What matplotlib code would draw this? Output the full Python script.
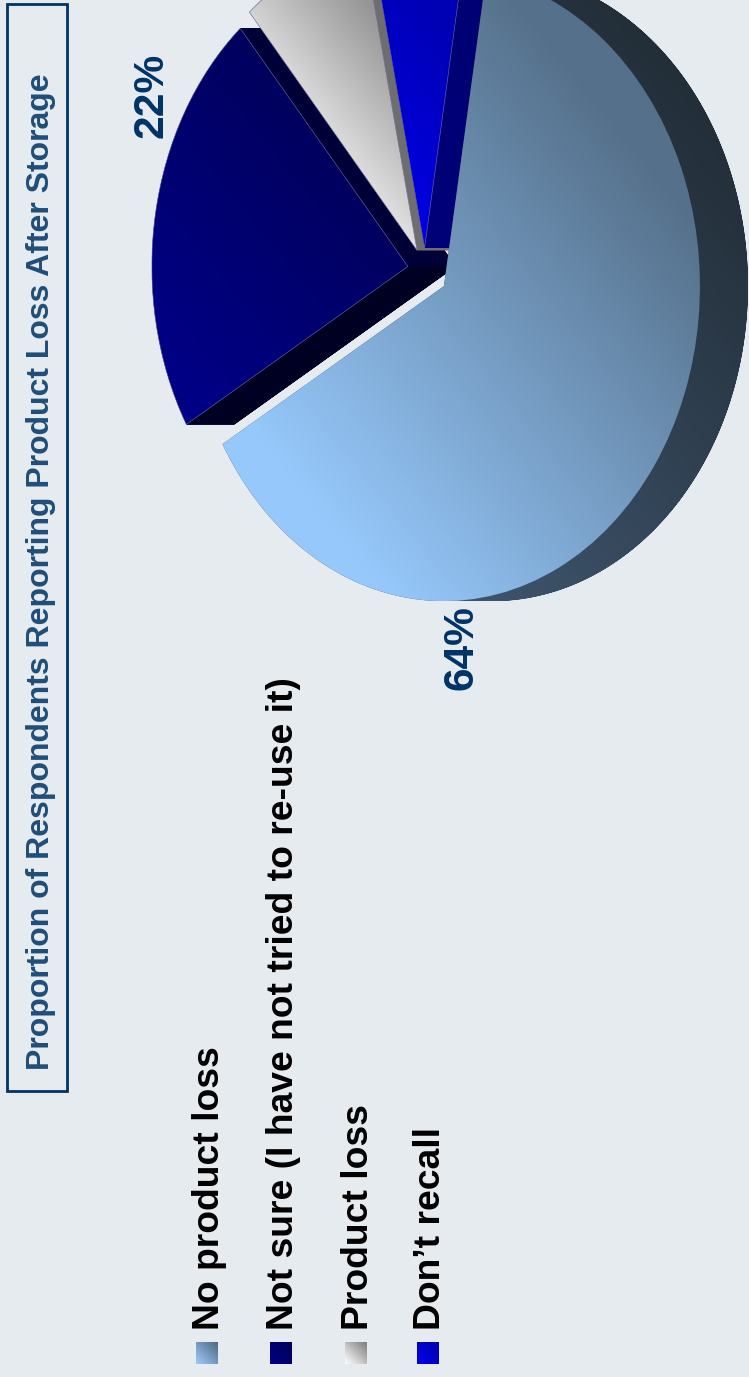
import numpy as np
import matplotlib
matplotlib.use("Agg")
import matplotlib.pyplot as plt
from matplotlib.colors import to_rgb
from matplotlib.patches import PathPatch, Rectangle
from matplotlib.path import Path

plt.rcParams['font.family'] = ['Liberation Sans', 'DejaVu Sans']

TITLE = "Proportion of Respondents Reporting Product Loss After Storage"
categories = ["No product loss", "Not sure (I have not tried to re-use it)",
              "Product loss", "Don\u2019t recall"]
values = [64, 22, 8, 6]
explode = [0.09, 0.068, 0.07, 0.07]
shown_labels = {0: "64%", 1: "22%"}

W, H = 749, 1377
BG = "#e6ebf0"
NAVY = "#003366"
CX, CY = 425, 270      # pie centre, px
RX, RY = 256, 315      # pie radii, px: the disc is viewed in perspective
DEPTH = 48 / RX        # extrusion of the disc along +x

# Gradient stops as (colour, position) along the lower-left to upper-right diagonal
face_stops = [(("#96c8fb", 0.2), ("#55708a", 0.8)),
              (("#000084", 0.2), ("#00005a", 0.55)),
              (("#e0e0e0", 0.5), ("#909090", 0.66)),
              (("#0000e4", 0.5), ("#0000b4", 0.7))]
side_stops = [(("#4a6482", 0.0), ("#1c252c", 1.0)),
              (("#000038", 0.0), ("#000038", 1.0)),
              (("#6e6e6e", 0.0), ("#6e6e6e", 1.0)),
              (("#000080", 0.0), ("#000070", 1.0))]
swatch_stops = [("#9ccbfd", "#4f6780"), ("#000084", "#000058"),
                ("#ffffff", "#7d7d7d"), ("#0000ee", "#0000a8")]

fig = plt.figure(figsize=(W / 100, H / 100), dpi=100, facecolor=BG)
ax = fig.add_axes([0, 0, 1, 1], facecolor="none")
wedges, _ = ax.pie(values, explode=explode, startangle=80.5, counterclock=False,
                   radius=1, wedgeprops=dict(facecolor="none", edgecolor="none"))
ax.set_aspect("auto")
xlim = (-CX / RX, (W - CX) / RX)
ylim = ((CY - H) / RY, CY / RY)


def ramp(t, stops):
    """Linear colour ramp between two stops, held constant outside them."""
    (c0, t0), (c1, t1) = stops
    s = np.clip((t - t0) / (t1 - t0), 0, 1)[..., None]
    return np.array(to_rgb(c0)) * (1 - s) + np.array(to_rgb(c1)) * s


def gradient_fill(axis, clip, box, stops, z):
    """Paint a diagonal gradient over a box and clip it to a patch."""
    x0, x1, y0, y1 = box
    v, u = np.mgrid[0:1:300j, 0:1:300j]
    im = axis.imshow(ramp((u + v) / 2, stops), extent=(x0, x1, y0, y1),
                     origin="lower", aspect="auto", interpolation="bilinear",
                     zorder=z)
    im.set_clip_path(clip)
    return im


def wedge_outline(wedge):
    cx, cy = wedge.center
    a = np.deg2rad(np.linspace(wedge.theta1, wedge.theta2, 361))
    arc = np.column_stack([cx + wedge.r * np.cos(a), cy + wedge.r * np.sin(a)])
    return np.vstack([[cx, cy], arc, [cx, cy]])


def swept_path(wedge, d):
    """Outline of a wedge dragged along +x: offset copy plus side quads."""
    poly = wedge_outline(wedge)

    def oriented(pts):
        x, y = pts[:, 0], pts[:, 1]
        area = np.sum(x * np.roll(y, -1) - np.roll(x, -1) * y)
        return pts if area > 0 else pts[::-1]

    parts = [Path(oriented(poly + [d, 0]))]
    for a, b in zip(poly[:-1], poly[1:]):
        parts.append(Path(oriented(np.array([a, b, b + [d, 0], a + [d, 0]]))))
    return Path.make_compound_path(*parts)


# The later slice in this list paints over the earlier ones
for z, i in enumerate([1, 2, 3, 0]):
    w = wedges[i]
    cx, cy = w.center
    side = PathPatch(swept_path(w, DEPTH), facecolor="none", edgecolor="none",
                     transform=ax.transData)
    ax.add_patch(side)
    gradient_fill(ax, side, (cx - 1, cx + 1 + DEPTH, cy - 1, cy + 1),
                  side_stops[i], 10 + 3 * z)

    if i == 1:
        # the lower cut face of this slice catches less light
        a = np.deg2rad(w.theta2)
        tip = np.array([cx + np.cos(a), cy + np.sin(a)])
        quad = np.array([[cx, cy], tip, tip + [DEPTH, 0], [cx + DEPTH, cy]])
        ax.fill(quad[:, 0], quad[:, 1], color="#000022", lw=0, zorder=11 + 3 * z)

    gradient_fill(ax, w, (cx - 1, cx + 1, cy - 1, cy + 1), face_stops[i], 12 + 3 * z)
    if i != 0:
        w.set_edgecolor("#6f6fa6")
        w.set_linewidth(0.4)
        w.set_zorder(12.5 + 3 * z)

ax.set_xlim(xlim)
ax.set_ylim(ylim)
ax.axis("off")

# Overlay in pixel units for the title box, legend and labels
ov = fig.add_axes([0, 0, 1, 1], facecolor="none")
ov.set_xlim(0, W)
ov.set_ylim(H, 0)
ov.axis("off")

ov.add_patch(Rectangle((7, 4), 60, 1087, facecolor="none", edgecolor=NAVY, lw=2))
ov.text(41, 1070, TITLE, rotation=90, ha="center", va="bottom", fontsize=23.0,
        fontweight="bold", color="#1f4e79")

swatch_x = [196, 270, 345, 417]
for i, (name, sx) in enumerate(zip(categories, swatch_x)):
    v, u = np.mgrid[0:1:40j, 0:1:40j]
    c0, c1 = swatch_stops[i]
    ov.imshow(ramp((u + (1 - v)) / 2, ((c0, 0.0), (c1, 1.0))),
              extent=(sx, sx + 22, 1364, 1342), aspect="auto", origin="upper")
    ov.text(sx - 4, 1330, name, rotation=90, ha="left", va="bottom", fontsize=26.8,
            fontweight="bold", color="black")

for i, (px, py) in zip(shown_labels, [(462, 690), (152, 138)]):
    ov.text(px, py, shown_labels[i], rotation=90, ha="center", va="bottom",
            fontsize=30.6, fontweight="bold", color=NAVY)

ov.set_xlim(0, W)
ov.set_ylim(H, 0)
fig.savefig("out.png", dpi=100, facecolor=BG)
